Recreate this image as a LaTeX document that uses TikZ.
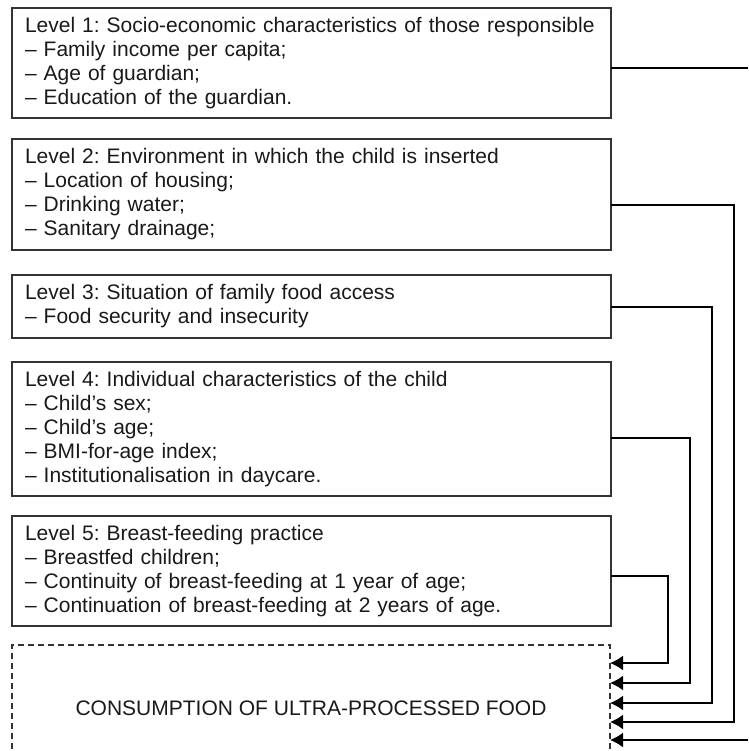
\documentclass[tikz,border=0pt]{standalone}
\usepackage{fontspec}
\setmainfont{Liberation Sans}
\usetikzlibrary{positioning,arrows.meta}
\tikzset{
  levelbox/.style={
    draw=black!80,
    rectangle,
    anchor=north west,
    minimum width=599pt,
    text width=573pt,
    inner xsep=13pt,
    inner ysep=0pt,
    outer sep=0pt,
    align=left,
    line width=1.2pt,
    text=black!90,
    font=\fontsize{21}{24}\selectfont\frenchspacing,
  },
  outcome/.style={
    draw=black!80,
    rectangle,
    dash pattern=on 6pt off 4pt,
    minimum width=598pt,
    minimum height=126pt,
    outer sep=0pt,
    line width=1.2pt,
    text=black!90,
    font=\fontsize{21}{24}\selectfont,
  },
  link/.style={line width=1.8pt},
  feed/.style={link, -{Latex[length=13pt,width=15pt]}},
}
\begin{document}
\begin{tikzpicture}[x=1pt,y=-1pt]
  \useasboundingbox (0,0) rectangle (748,751);
  \node[levelbox, minimum height=110pt] (L1) at (12,8)
    {Level 1: Socio-economic characteristics of those responsible\\
     – Family income per capita;\\
     – Age of guardian;\\
     – Education of the guardian.};
  \node[levelbox, minimum height=111pt, below=21pt of L1.south west, anchor=north west] (L2)
    {Level 2: Environment in which the child is inserted\\
     – Location of housing;\\
     – Drinking water;\\
     – Sanitary drainage;};
  \node[levelbox, minimum height=63pt, below=25pt of L2.south west, anchor=north west] (L3)
    {Level 3: Situation of family food access\\
     – Food security and insecurity};
  \node[levelbox, minimum height=134pt, below=24pt of L3.south west, anchor=north west] (L4)
    {Level 4: Individual characteristics of the child\\
     – Child’s sex;\\
     – Child’s age;\\
     – BMI-for-age index;\\
     – Institutionalisation in daycare.};
  \node[levelbox, minimum height=110pt, below=20pt of L4.south west, anchor=north west] (L5)
    {Level 5: Breast-feeding practice\\
     – Breastfed children;\\
     – Continuity of breast-feeding at 1 year of age;\\
     – Continuation of breast-feeding at 2 years of age.};
  \node[outcome, below=19pt of L5.south west, anchor=north west] (UPF)
    {CONSUMPTION OF ULTRA-PROCESSED FOOD};

  % level 1 leaves the frame on the right and comes back at the bottom
  \coordinate (out1) at (748,68);
  \coordinate (in1) at (748,740);
  \draw[link] (L1.east |- out1) -- (out1);
  \draw[feed] (in1) -- (UPF.east |- in1);

  \foreach \lvl/\ya/\xv/\yb in {2/205/734/722, 3/307/712/703, 4/438/690/683, 5/576/668/663} {
    \draw[feed] (L\lvl.east |- 0,\ya) -| (\xv,\yb) -- (UPF.east |- 0,\yb);
  }
\end{tikzpicture}
\end{document}
